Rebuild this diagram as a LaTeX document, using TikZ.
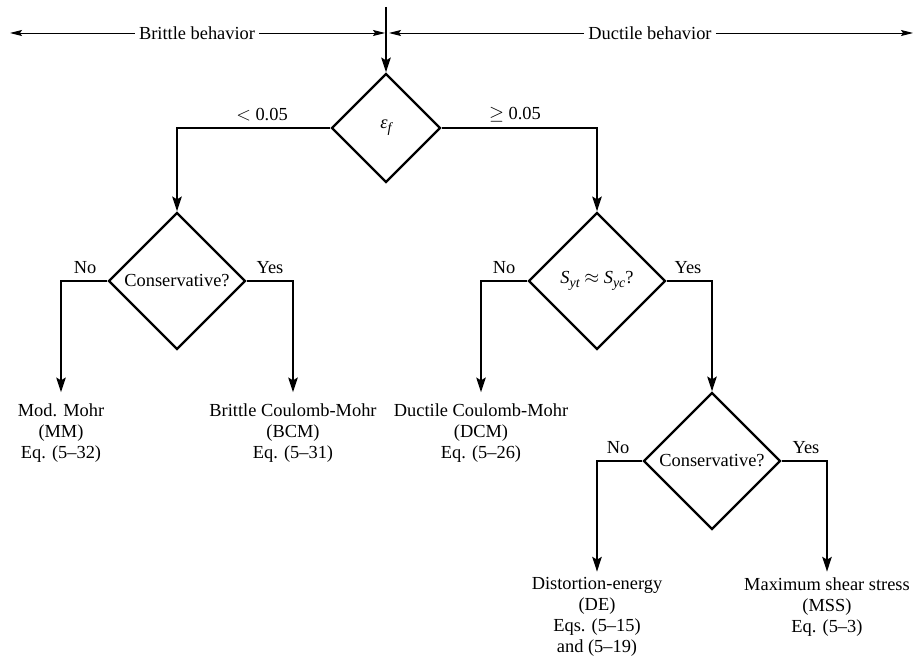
\documentclass[tikz,border=0pt]{standalone}
\usepackage{fontspec}
\setmainfont{Liberation Serif}
\usetikzlibrary{shapes.geometric,arrows.meta}
\newcommand{\lowsub}[1]{\raisebox{-0.45ex}{\fontsize{10.5}{10.5}\selectfont\itshape #1}}
\begin{document}
\begin{tikzpicture}[x=0.75pt,y=-0.75pt,
  font=\fontsize{13.8}{15.8}\selectfont,
  dec/.style={draw, diamond, aspect=1, inner sep=0pt, line width=1.7pt,
              minimum width=102.75pt, minimum height=102.75pt},
  flow/.style={line width=1.7pt, -{Stealth[length=11pt,width=7pt,inset=2pt]}},
  thinarrow/.style={line width=0.7pt, -{Stealth[length=9pt,width=4.5pt,inset=1.5pt]}},
  res/.style={align=center, anchor=north, inner sep=0pt},
  lab/.style={inner sep=0pt}]
\useasboundingbox (0,0) rectangle (920,663);

% behavior ranges
\node[inner sep=3pt] (bb) at (197,33) {Brittle behavior};
\node[inner sep=3pt] (db) at (650,33) {Ductile behavior};
\coordinate (bl) at (10,33);
\coordinate (bm) at (385,33);
\coordinate (dm) at (389,33);
\coordinate (dr) at (913,33);
\draw[thinarrow] (bb.west) -- (bl);
\draw[thinarrow] (bb.east) -- (bm);
\draw[thinarrow] (db.west) -- (dm);
\draw[thinarrow] (db.east) -- (dr);

% decisions
\node[dec, minimum width=81.75pt, minimum height=81.75pt] (d1) at (386,128) {{\itshape ε}\lowsub{f}};
\node[dec] (d2) at (177,281) {Conservative?};
\node[dec] (d3) at (597,281) {{\itshape S}\lowsub{yt}\ $\approx$\ {\itshape S}\lowsub{yc}?};
\node[dec] (d4) at (712,461) {Conservative?};

% results
\node[res] (mm)  at (61,403)  {Mod. Mohr\\(MM)\\Eq. (5--32)};
\node[res] (bcm) at (293,403) {Brittle Coulomb-Mohr\\(BCM)\\Eq. (5--31)};
\node[res] (dcm) at (481,403) {Ductile Coulomb-Mohr\\(DCM)\\Eq. (5--26)};
\node[res] (de)  at (597,577) {Distortion-energy\\(DE)\\Eqs. (5--15)\\and (5--19)};
\node[res] (mss) at (827,577) {Maximum shear stress\\(MSS)\\Eq. (5--3)};

% labels
\node[lab] (l1) at (262,115) {$<$ 0.05};
\node[lab] (l2) at (515,115) {$\geq$ 0.05};
\node[lab] (n1) at (85,268) {No};
\node[lab] (y1) at (270,268) {Yes};
\node[lab] (n2) at (504,268) {No};
\node[lab] (y2) at (688,268) {Yes};
\node[lab] (n3) at (618,448) {No};
\node[lab] (y3) at (806,448) {Yes};

% connectors
\coordinate (top) at (386,7);
\draw[flow] (top) -- (d1.north);
\draw[flow] (d1.west) -| (d2.north);
\draw[flow] (d1.east) -| (d3.north);
\draw[flow, shorten >=8pt] (d2.west) -| (mm.north);
\draw[flow, shorten >=8pt] (d2.east) -| (bcm.north);
\draw[flow, shorten >=8pt] (d3.west) -| (dcm.north);
\draw[flow] (d3.east) -| (d4.north);
\draw[flow, shorten >=4pt] (d4.west) -| (de.north);
\draw[flow, shorten >=4pt] (d4.east) -| (mss.north);
\end{tikzpicture}
\end{document}
